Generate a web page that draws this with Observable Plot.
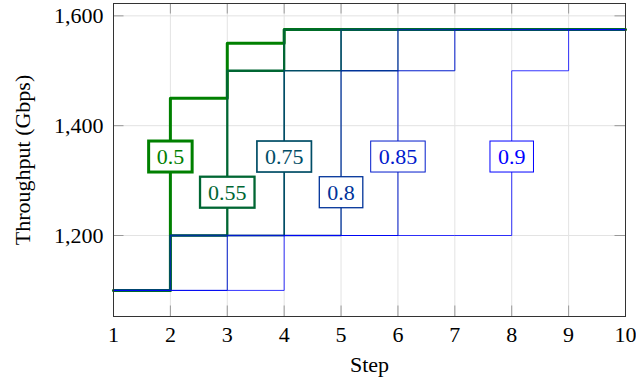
<!DOCTYPE html>
<html><head><meta charset="utf-8">
<script src="https://cdn.jsdelivr.net/npm/d3@7"></script>
<script src="https://cdn.jsdelivr.net/npm/@observablehq/plot@0.6"></script>
<style>body{margin:0;background:#fff} svg text{font-family:'Liberation Serif','DejaVu Serif',serif}</style>
</head><body><div id="chart"></div>
<script>
// ---- data ----
const steps = [1, 2, 3, 4, 5, 6, 7, 8, 9, 10];
const thresholds = ["0.5", "0.55", "0.75", "0.8", "0.85", "0.9"];
const thr050 = [1100, 1450, 1550, 1575, 1575, 1575, 1575, 1575, 1575, 1575];
const thr055 = [1100, 1200, 1500, 1575, 1575, 1575, 1575, 1575, 1575, 1575];
const thr075 = [1100, 1200, 1200, 1500, 1575, 1575, 1575, 1575, 1575, 1575];
const thr080 = [1100, 1200, 1200, 1200, 1500, 1575, 1575, 1575, 1575, 1575];
const thr085 = [1100, 1100, 1200, 1200, 1200, 1500, 1575, 1575, 1575, 1575];
const thr090 = [1100, 1100, 1100, 1200, 1200, 1200, 1200, 1500, 1575, 1575];
const labelStep = [2, 3, 4, 5, 6, 8];
const labelLevel = [1343, 1278, 1343, 1278, 1343, 1343];
const xTicks = [1, 2, 3, 4, 5, 6, 7, 8, 9, 10];
const yTicks = [1200, 1400, 1600];

// ---- styles ----
const colors = ["#008000", "#006633", "#004d66", "#003399", "#001acc", "#0000ff"];
const widths = [3, 2.3, 1.7, 1.3, 1.0, 0.8];
const font = "'Liberation Serif', 'DejaVu Serif', serif";

const seriesValues = [thr050, thr055, thr075, thr080, thr085, thr090];
const series = thresholds.map((t, i) => steps.map((s, j) => ({step: s, value: seriesValues[i][j], thr: t})));
const labels = thresholds.map((t, i) => ({thr: t, step: labelStep[i], value: labelLevel[i], i, color: colors[i]}));

const W = 636, H = 381, mL = 113, mR = 11, mT = 3, mB = 65;
const pw = W - mL - mR, ph = H - mT - mB, tick = 10.5;

const marks = [
  Plot.gridX(xTicks, {stroke: "#e3e3e3", strokeOpacity: 1}),
  Plot.gridY(yTicks, {stroke: "#e3e3e3", strokeOpacity: 1}),
  Plot.ruleX(xTicks, {x: d => d, insetTop: ph - tick, stroke: "#999"}),
  Plot.ruleX(xTicks, {x: d => d, insetBottom: ph - tick, stroke: "#999"}),
  Plot.ruleY(yTicks, {y: d => d, insetRight: pw - tick, stroke: "#999"}),
  Plot.ruleY(yTicks, {y: d => d, insetLeft: pw - tick, stroke: "#999"}),
  ...series.map((d, i) => Plot.line(d, {x: "step", y: "value", curve: "step-after", stroke: colors[i], strokeWidth: widths[i]})),
  Plot.text(labels, {x: "step", y: "value", text: "thr", fill: "color", fontSize: 22, fontFamily: font}),
  Plot.axisX({ticks: xTicks, tickSize: 0, tickPadding: 10, fontSize: 22, fontFamily: font, label: null, tickFormat: d => String(d)}),
  Plot.axisY({ticks: yTicks, tickSize: 0, tickPadding: 10, fontSize: 22, fontFamily: font, label: null, tickFormat: d3.format(",")}),
  Plot.text(["Step"], {frameAnchor: "bottom", dy: 55, text: d => d, fontSize: 22, fontFamily: font}),
  Plot.text(["Throughput (Gbps)"], {frameAnchor: "left", dx: -91, rotate: -90, textAnchor: "middle", text: d => d, fontSize: 22, fontFamily: font}),
  Plot.frame({stroke: "#333", strokeWidth: 1})
];

const chart = Plot.plot({
  width: W, height: H,
  marginLeft: mL, marginRight: mR, marginTop: mT, marginBottom: mB,
  x: {domain: [1, 10]},
  y: {domain: [1052.5, 1622.5]},
  color: {type: "identity"},
  style: {fontFamily: font, fontSize: "22px", color: "#000", background: "#fff", overflow: "visible"},
  marks
});
document.getElementById("chart").appendChild(chart);

// draw framed boxes behind the threshold labels
const svgNS = "http://www.w3.org/2000/svg";
Array.from(chart.querySelectorAll("text")).forEach(t => {
  const i = thresholds.indexOf(t.textContent.trim());
  if (i < 0) return;
  const b = t.getBBox();
  const r = document.createElementNS(svgNS, "rect");
  const padX = 8, padY = 3;
  r.setAttribute("x", b.x - padX);
  r.setAttribute("y", b.y - padY);
  r.setAttribute("width", b.width + 2 * padX);
  r.setAttribute("height", b.height + 2 * padY);
  r.setAttribute("fill", "#fff");
  r.setAttribute("stroke", colors[i]);
  r.setAttribute("stroke-width", Math.max(1, widths[i]));
  if (t.getAttribute("transform")) r.setAttribute("transform", t.getAttribute("transform"));
  t.parentNode.insertBefore(r, t);
});
</script>
</body></html>
